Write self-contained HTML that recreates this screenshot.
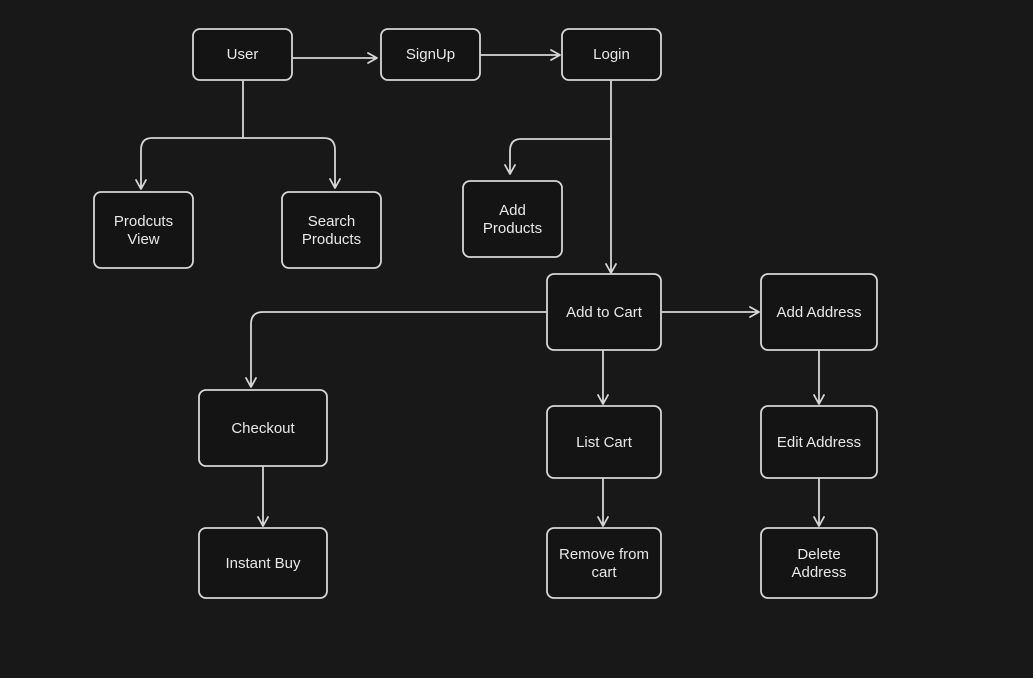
<!DOCTYPE html>
<html><head><meta charset="utf-8"><style>
html,body{margin:0;padding:0;background:#181818;}
svg{display:block}
text{font-family:"Liberation Sans",sans-serif;font-size:15px;fill:#e8e8e8;text-anchor:middle}
.b{fill:#141414;stroke:#d6d6d6;stroke-width:1.8}
.l{fill:none;stroke:#d6d6d6;stroke-width:1.8;stroke-linecap:round;stroke-linejoin:round}
</style></head><body>
<svg width="1033" height="678" viewBox="0 0 1033 678">
<rect width="1033" height="678" fill="#181818"/>
<g>
<rect class="b" x="193" y="29" width="99" height="51" rx="7"/>
<rect class="b" x="381" y="29" width="99" height="51" rx="7"/>
<rect class="b" x="562" y="29" width="99" height="51" rx="7"/>
<rect class="b" x="94" y="192" width="99" height="76" rx="7"/>
<rect class="b" x="282" y="192" width="99" height="76" rx="7"/>
<rect class="b" x="463" y="181" width="99" height="76" rx="7"/>
<rect class="b" x="547" y="274" width="114" height="76" rx="7"/>
<rect class="b" x="761" y="274" width="116" height="76" rx="7"/>
<rect class="b" x="199" y="390" width="128" height="76" rx="7"/>
<rect class="b" x="547" y="406" width="114" height="72" rx="7"/>
<rect class="b" x="761" y="406" width="116" height="72" rx="7"/>
<rect class="b" x="199" y="528" width="128" height="70" rx="7"/>
<rect class="b" x="547" y="528" width="114" height="70" rx="7"/>
<rect class="b" x="761" y="528" width="116" height="70" rx="7"/>
</g>
<g class="l">
<path class="l" d="M293 58 H376 M368 53 L377 58 L368 63"/>
<path class="l" d="M481 55 H560 M551 50 L560 55 L551 60"/>
<path class="l" d="M243 81 V138"/>
<path class="l" d="M243 138 H152 Q141 138 141 150 V189 M136 180 L141 189 L146 180"/>
<path class="l" d="M243 138 H324 Q335 138 335 150 V188 M330 179 L335 188 L340 179"/>
<path class="l" d="M611 81 V273 M606 264 L611 273 L616 264"/>
<path class="l" d="M611 139 H521 Q510 139 510 151 V174 M505 165 L510 174 L515 165"/>
<path class="l" d="M546 312 H263 Q251 312 251 324 V387 M246 378 L251 387 L256 378"/>
<path class="l" d="M662 312 H759 M750 307 L759 312 L750 317"/>
<path class="l" d="M603 351 V404 M598 395 L603 404 L608 395"/>
<path class="l" d="M819 351 V404 M814 395 L819 404 L824 395"/>
<path class="l" d="M263 467 V526 M258 517 L263 526 L268 517"/>
<path class="l" d="M603 479 V526 M598 517 L603 526 L608 517"/>
<path class="l" d="M819 479 V526 M814 517 L819 526 L824 517"/>
</g>
<text x="242.5" y="59">User</text>
<text x="430.5" y="59">SignUp</text>
<text x="611.5" y="59">Login</text>
<text x="143.5" y="226">Prodcuts</text><text x="143.5" y="244">View</text>
<text x="331.5" y="226">Search</text><text x="331.5" y="244">Products</text>
<text x="512.5" y="215">Add</text><text x="512.5" y="233">Products</text>
<text x="604" y="317">Add to Cart</text>
<text x="819" y="317">Add Address</text>
<text x="263" y="433">Checkout</text>
<text x="604" y="447">List Cart</text>
<text x="819" y="447">Edit Address</text>
<text x="263" y="568">Instant Buy</text>
<text x="604" y="559">Remove from</text><text x="604" y="577">cart</text>
<text x="819" y="559">Delete</text><text x="819" y="577">Address</text>
</svg>
</body></html>
